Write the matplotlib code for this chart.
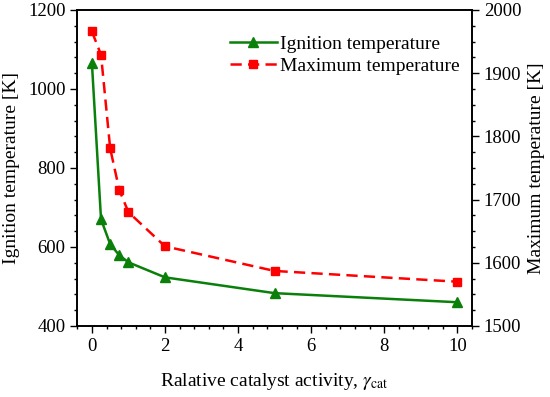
import matplotlib

matplotlib.use("Agg")
import matplotlib.pyplot as plt
from matplotlib.ticker import AutoMinorLocator

# relative catalyst activity
activity = [0, 0.25, 0.5, 0.75, 1, 2, 5, 10]
# ignition temperature [K] (left axis)
ignition = [1066, 670, 607, 579, 561, 523, 483, 460]
# maximum temperature [K] (right axis)
maximum = [1966, 1929, 1781, 1715, 1680, 1626, 1587, 1570]

plt.rcParams["font.family"] = ["Liberation Serif", "DejaVu Serif"]
plt.rcParams["mathtext.fontset"] = "stix"
plt.rcParams["font.size"] = 14


def style(ax):
    ax.tick_params(which="major", direction="out", length=5, width=1.0,
                   labelsize=13.5)
    ax.tick_params(which="minor", direction="out", length=2.5, width=1.0)
    for sp in ax.spines.values():
        sp.set_linewidth(1.2)


fig, ax = plt.subplots(figsize=(5.5, 3.97), dpi=100)
ax2 = ax.twinx()

l1, = ax.plot(activity, ignition, color="#0a800a", linestyle="-", marker="^",
              markersize=6.5, linewidth=1.8, label="Ignition temperature")
l2, = ax2.plot(activity, maximum, color="#ff0000", linestyle=(0, (4.5, 2.5)),
               marker="s", markersize=5.5, linewidth=1.8,
               label="Maximum temperature")

ax.set_xlim(-0.4, 10.4)
ax.set_ylim(400, 1200)
ax2.set_ylim(1500, 2000)
ax.set_xticks([0, 2, 4, 6, 8, 10])
ax.set_yticks([400, 600, 800, 1000, 1200])
ax2.set_yticks([1500, 1600, 1700, 1800, 1900, 2000])
ax.xaxis.set_minor_locator(AutoMinorLocator(5))
ax.yaxis.set_minor_locator(AutoMinorLocator(5))
ax2.yaxis.set_minor_locator(AutoMinorLocator(4))
style(ax)
style(ax2)

ax.set_xlabel(r"Ralative catalyst activity, $\gamma_{\mathrm{cat}}$", labelpad=12)
ax.set_ylabel("Ignition temperature [K]", labelpad=6)
ax2.set_ylabel("Maximum temperature [K]", labelpad=5)

ax.legend([l1, l2], [l1.get_label(), l2.get_label()], loc="upper right",
          bbox_to_anchor=(0.97, 0.92), frameon=False, handlelength=2.4,
          handletextpad=0.2, labelspacing=0.25, borderpad=0, borderaxespad=0)

fig.subplots_adjust(left=0.1405, right=0.858, top=0.975, bottom=0.179)
fig.savefig("out.png", dpi=100)
